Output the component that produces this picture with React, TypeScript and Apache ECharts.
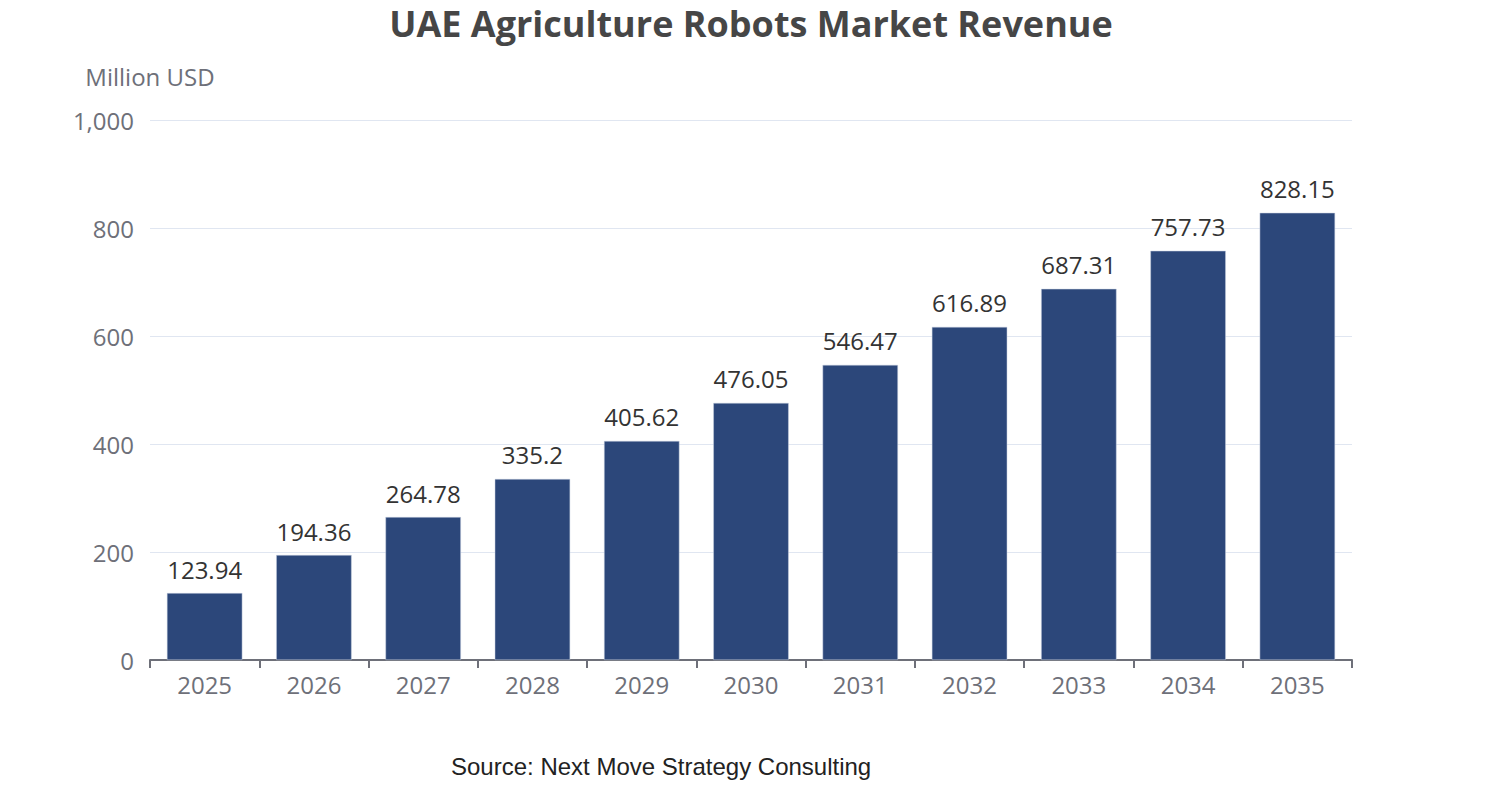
import * as echarts from "echarts";
import { useEffect, useRef } from "react";

const years = ["2025", "2026", "2027", "2028", "2029", "2030", "2031", "2032", "2033", "2034", "2035"];
const revenue = [123.94, 194.36, 264.78, 335.2, 405.62, 476.05, 546.47, 616.89, 687.31, 757.73, 828.15];

const font = "'Open Sans', 'Noto Sans', sans-serif";

export default function App() {
  const chartRef = useRef<HTMLDivElement>(null);

  useEffect(() => {
    document.body.style.margin = "0";
    if (!chartRef.current) return;
    const chart = echarts.init(chartRef.current, null, { renderer: "svg" });

    chart.setOption({
      animation: false,
      title: {
        text: "UAE Agriculture Robots Market Revenue",
        left: "center",
        top: 0,
        textStyle: { fontFamily: font, fontSize: 36, fontWeight: "bold", color: "#464646" },
      },
      grid: { left: 150, right: 150, top: 120, bottom: 140 },
      xAxis: {
        type: "category",
        data: years,
        axisLine: { lineStyle: { color: "#6e7079", width: 2 } },
        axisTick: { show: true, length: 8, lineStyle: { color: "#6e7079", width: 2 } },
        axisLabel: { fontFamily: font, fontSize: 24, color: "#6e7079", margin: 12 },
      },
      yAxis: {
        type: "value",
        min: 0,
        max: 1000,
        interval: 200,
        name: "Million USD",
        nameGap: 32,
        nameTextStyle: { fontFamily: font, fontSize: 24, color: "#6e7079" },
        axisLabel: { fontFamily: font, fontSize: 24, color: "#6e7079", margin: 16 },
        splitLine: { lineStyle: { color: "#e0e6f1" } },
      },
      series: [
        {
          type: "bar",
          data: revenue,
          barWidth: "69%",
          itemStyle: { color: "#2c477a", borderColor: "#c8d0e0", borderWidth: 0.5 },
          label: {
            show: true,
            position: "top",
            distance: 12,
            fontFamily: font,
            fontSize: 24,
            color: "#333333",
          },
        },
      ],
      graphic: [
        {
          type: "text",
          left: 451,
          top: 754,
          style: {
            text: "Source: Next Move Strategy Consulting",
            fontFamily: "'Liberation Sans', Arial, sans-serif",
            fontSize: 24,
            fill: "#222222",
          },
        },
      ],
    });

    return () => chart.dispose();
  }, []);

  return <div ref={chartRef} style={{ width: "1502px", height: "800px" }} />;
}
